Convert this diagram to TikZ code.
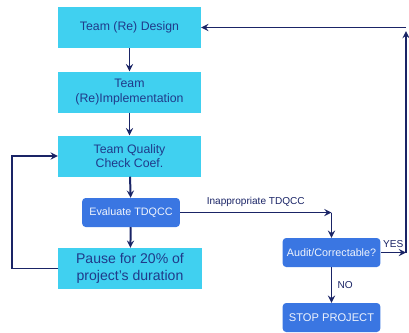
\documentclass[tikz,border=0pt]{standalone}
\usepackage{fontspec}
\setmainfont{Liberation Sans}
\usetikzlibrary{positioning}
\definecolor{boxcyan}{RGB}{64,208,240}
\definecolor{boxblue}{RGB}{58,118,226}
\definecolor{ink}{RGB}{32,58,138}
\definecolor{arrowc}{RGB}{26,36,102}
\tikzset{
  stage/.style={fill=boxcyan, text=ink, align=center, minimum width=4.29cm, minimum height=1.23cm, font=\fontsize{10.5}{12.5}\selectfont},
  check/.style={fill=boxblue, text=white!92!boxblue, rounded corners=3pt, minimum width=2.93cm, minimum height=0.87cm, font=\fontsize{9.2}{10}\selectfont},
  flow/.style={->, >=stealth, draw=arrowc, line width=1.7pt},
  lbl/.style={text=arrowc, font=\fontsize{8.6}{9}\selectfont}
}
\begin{document}
\begin{tikzpicture}[x=0.03cm, y=-0.03cm]
            \useasboundingbox (0,0) rectangle (409,333);

            \node[stage] (design) at (129.5,27.5) {Team (Re) Design};
            \node[stage] (impl) at (129.5,92) {Team\\(Re)Implementation};
            \node[stage] (quality) at (129.5,156) {Team Quality\\Check Coef.};
            \node[check] (eval) at (131,212.5) {Evaluate TDQCC};
            \node[stage, font=\fontsize{12}{14}\selectfont] (pause) at (130,268.5) {Pause for 20\% of\\project's duration};
            \node[check] (audit) at (331.5,252.5) {Audit/Correctable?};
            \node[check, font=\fontsize{9.5}{10}\selectfont] (stop) at (331.5,317.5) {STOP PROJECT};

            \coordinate (loopx) at (12,0);
            \coordinate (retx) at (406,0);
            \coordinate (bend) at (eval.east -| audit.north);
            \coordinate (yesend) at (audit.east -| retx);
            \coordinate (topend) at (design.east -| retx);

            \draw[flow] (design) -- (impl);
            \draw[flow] (impl) -- (quality);
            \draw[flow] (quality) -- (eval);
            \draw[flow] (eval) -- (pause);
            \draw[flow] (pause.west) -- (pause.west -| loopx) |- (quality.west);

            \draw[flow] (eval.east) -- (bend) node[lbl, midway, above=1pt] {Inappropriate TDQCC};
            \draw[flow] (bend) -- (audit.north);
            \draw[flow] (audit) -- (stop) node[lbl, midway, right=1pt] {NO};
            \draw[flow] (audit.east) -- (yesend) node[lbl, midway, above=0pt] {YES};
            \draw[flow, shorten >=3pt] (yesend) -- (topend);
            \draw[flow] (topend) -- (design.east);

        \end{tikzpicture}
\end{document}
